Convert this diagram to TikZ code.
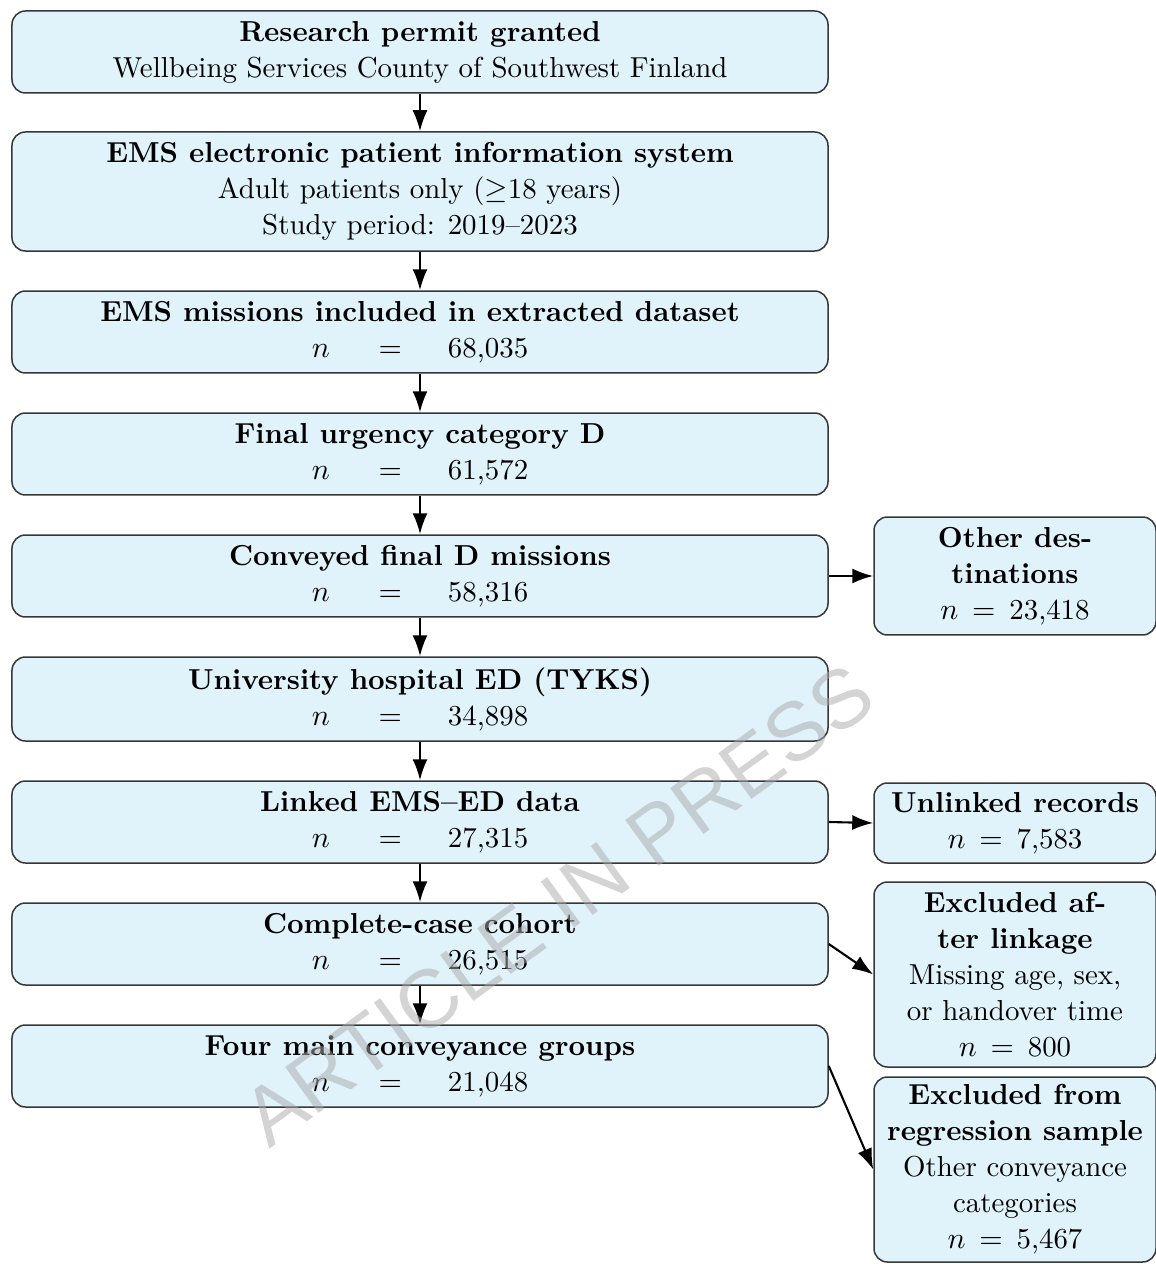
\documentclass[tikz,border=0pt]{standalone}
\usepackage{fontspec}
\newfontfamily\wmfont{Liberation Sans}
\usetikzlibrary{arrows.meta}
\definecolor{boxfill}{RGB}{224,242,250}
\definecolor{boxline}{RGB}{55,55,55}
\definecolor{wmgray}{RGB}{170,170,170}
\tikzset{
  mainbox/.style={rectangle, rounded corners=4.5pt, draw=boxline, fill=boxfill,
    line width=0.5pt, align=center, minimum width=272pt, inner xsep=2pt, inner ysep=1pt,
    font=\fontsize{9.63pt}{12pt}\selectfont},
  sidebox/.style={rectangle, rounded corners=4.5pt, draw=boxline, fill=boxfill,
    line width=0.5pt, align=center, minimum width=94pt, inner xsep=2pt, inner ysep=1pt,
    font=\fontsize{9.63pt}{12pt}\selectfont},
  arr/.style={line width=0.7pt, -{Latex[length=7pt,width=5pt]}},
}
\newcommand{\mainn}[1]{$n$\hspace{16.3pt}$=$\hspace{15.3pt}#1}
\newcommand{\siden}[1]{$n$\hspace{4.6pt}$=$\hspace{4.6pt}#1}
\begin{document}
\begin{tikzpicture}[x=0.33333pt, y=-0.33333pt]
\useasboundingbox (0,0) rectangle (1155,1264);
% main column
\node[mainbox, minimum height=27.33pt] (b1) at (420,52) {\textbf{Research permit granted}\\Wellbeing Services County of Southwest Finland};
\node[mainbox, minimum height=39.67pt] (b2) at (420,191.5) {\textbf{EMS electronic patient information system}\\Adult patients only ($\geq$18 years)\\Study period: 2019–2023};
\node[mainbox, minimum height=27.33pt] (b3) at (420,332) {\textbf{EMS missions included in extracted dataset}\\\mainn{68,035}};
\node[mainbox, minimum height=27.33pt] (b4) at (420,454) {\textbf{Final urgency category D}\\\mainn{61,572}};
\node[mainbox, minimum height=27.33pt] (b5) at (420,576) {\textbf{Conveyed final D missions}\\\mainn{58,316}};
\node[mainbox, minimum height=28pt] (b6) at (420,699) {\textbf{University hospital ED (TYKS)}\\\mainn{34,898}};
\node[mainbox, minimum height=27.33pt] (b7) at (420,822) {\textbf{Linked EMS–ED data}\\\mainn{27,315}};
\node[mainbox, minimum height=27.33pt] (b8) at (420,944) {\textbf{Complete-case cohort}\\\mainn{26,515}};
\node[mainbox, minimum height=27.33pt] (b9) at (420,1066) {\textbf{Four main conveyance groups}\\\mainn{21,048}};
% side column
\node[sidebox, minimum height=39.33pt] (s1) at (1015,576) {\textbf{Other des-}\\\textbf{tinations}\\\siden{23,418}};
\node[sidebox, minimum height=26.67pt] (s2) at (1015,823) {\textbf{Unlinked records}\\\siden{7,583}};
\node[sidebox, minimum height=61.67pt] (s3) at (1015,974.5) {\textbf{Excluded af-}\\\textbf{ter linkage}\\Missing age, sex,\\or handover time\\\siden{800}};
\node[sidebox, minimum height=61.67pt] (s4) at (1015,1169.5) {\textbf{Excluded from}\\\textbf{regression sample}\\Other conveyance\\categories\\\siden{5,467}};
% connectors
\draw[arr] (b1) -- (b2);
\draw[arr] (b2) -- (b3);
\draw[arr] (b3) -- (b4);
\draw[arr] (b4) -- (b5);
\draw[arr] (b5) -- (b6);
\draw[arr] (b6) -- (b7);
\draw[arr] (b7) -- (b8);
\draw[arr] (b8) -- (b9);
\draw[arr] (b5.east) -- (s1.west);
\draw[arr] (b7.east) -- (s2.west);
\draw[arr] (b8.east) -- (s3.west);
\draw[arr] (b9.east) -- (s4.west);
% watermark
\node[text=wmgray, text opacity=0.5, rotate=36, font=\wmfont\fontsize{27.5pt}{30pt}\selectfont, inner sep=0pt] (wm) at (558,905) {ARTICLE IN PRESS};
\end{tikzpicture}
\end{document}
